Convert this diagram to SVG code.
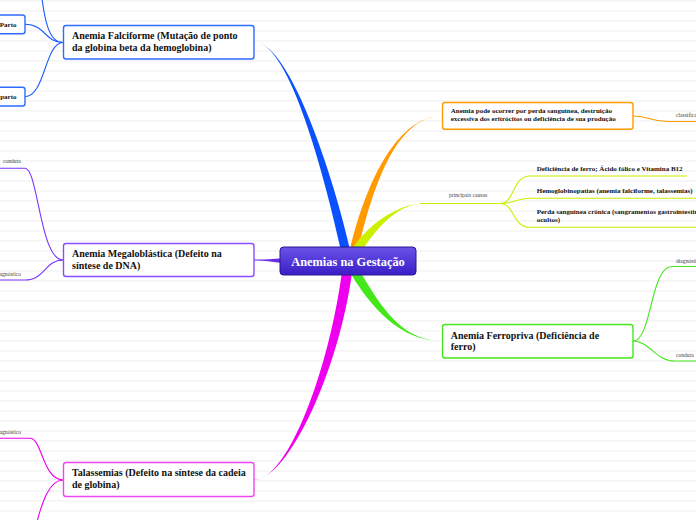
<svg xmlns="http://www.w3.org/2000/svg" width="696" height="520" viewBox="0 0 696 520">
<defs>
<pattern id="ruled" x="0" y="0" width="696" height="10" patternUnits="userSpaceOnUse">
<rect x="0" y="0" width="696" height="10" fill="#ffffff"/>
<rect x="0" y="0.2" width="696" height="1.4" fill="#f4f4f4"/>
</pattern>
<linearGradient id="rootGrad" x1="0" y1="0" x2="0" y2="1">
<stop offset="0" stop-color="#6b52e8"/>
<stop offset="1" stop-color="#3a1ec6"/>
</linearGradient>
<style>
.node{fill:#ffffff;stroke-width:1.4}
.t{font-family:"Liberation Serif","Times New Roman",serif;font-weight:bold;fill:#111111}
.big{font-size:10px}
.small{font-size:7px}
.lbl{font-family:"Liberation Serif","Times New Roman",serif;font-size:5.6px;fill:#444444}
.ln{fill:none;stroke-width:1.1}
.blue{stroke:#1a5cff}
.violet{stroke:#7a35ff}
.mag{stroke:#ee00ee}
.orange{stroke:#ff9a00}
.yel{stroke:#ccee00}
.green{stroke:#44e81a}
</style>
</defs>
<rect x="0" y="0" width="696" height="520" fill="url(#ruled)"/>

<g id="connectors">
<!-- main branches -->
<path d="M255,42.5 C290,42.5 334.4,179 350.4,251 L341.6,253 C325.6,181 290,42.5 255,42.5 Z" fill="#0a50ff"/>
<path d="M254,480 C288,480 339,370.6 352,272.6 L342,271.4 C329,369.4 288,480 254,480 Z" fill="#ee00ee"/>
<path d="M442,116 C395,116 371.9,190.9 357.9,250.9 L350.1,249.1 C364.1,189.1 395,116 442,116 Z" fill="#ff9a00"/>
<path d="M425,203.5 C395,203.5 373.8,232.5 360.8,252.5 L353.2,247.5 C366.2,227.5 395,203.5 425,203.5 Z" fill="#ccf000"/>
<path d="M442,341 C400,341 378.9,302.7 358.9,269.7 L351.1,274.3 C371.1,307.3 400,341 442,341 Z" fill="#44e81a"/>
<path d="M254,259.6 C265,259.6 272,259 284,258.2 L284,263.2 C272,262 265,260.6 254,260.6 Z" fill="#6a2ae8"/>

<!-- Falciforme children -->
<path class="ln blue" d="M63,42.5 C50,42.5 44,25 40,-20"/>
<path class="ln blue" d="M25,24.3 C45,24.3 45,42.5 63,42.5"/>
<path class="ln blue" d="M25,96.7 C45,96.7 45,42.5 63,42.5"/>

<!-- Megaloblastica children -->
<path class="ln violet" d="M0,168.3 L25,168.3 C38,168.3 40,260 63,260"/>
<path class="ln violet" d="M0,280 L25,280 C45,280 45,260 63,260"/>

<!-- Talassemias children -->
<path class="ln mag" d="M0,438.3 L30,438.3 C42,438.3 43,480 63,480"/>
<path class="ln mag" d="M63,480 C50,480 42,500 35,530"/>

<!-- Orange child -->
<path class="ln orange" d="M633,116 C650,116 650,121.5 668,121.5 L696,121.5"/>

<!-- Yellow causes -->
<path class="ln yel" d="M420,203.5 L500,203.5"/>
<path class="ln yel" d="M500,203.5 C515,203.5 512,176 530,176 L687,176"/>
<path class="ln yel" d="M500,203.5 C515,203.5 515,198.3 530,198.3 L696,198.3"/>
<path class="ln yel" d="M500,203.5 C515,203.5 512,227.3 530,227.3 L696,227.3"/>

<!-- Ferropriva children -->
<path class="ln green" d="M633,341 C652,341 650,266.5 672,266.5 L696,266.5"/>
<path class="ln green" d="M633,341 C650,341 655,361 675,361 L696,361"/>
</g>

<g id="root">
<rect x="280" y="247" width="136" height="28" rx="3.5" fill="url(#rootGrad)" stroke="#2a168f" stroke-width="1"/>
<text x="348" y="265.5" text-anchor="middle" font-family="Liberation Serif, Times New Roman, serif" font-weight="bold" font-size="12.4" fill="#ffffff">Anemias na Gestação</text>
</g>

<g id="falciforme">
<rect class="node" x="63.5" y="25.5" width="190.5" height="33.5" rx="2.5" stroke="#2e6bff"/>
<text class="t big" x="72" y="38.8">Anemia Falciforme (Mutação de ponto</text>
<text class="t big" x="72" y="50.5">da globina beta da hemoglobina)</text>
</g>

<g id="parto1">
<rect class="node" x="-10" y="15" width="35" height="18.7" rx="2.5" stroke="#2e6bff"/>
<text class="t small" x="16.5" y="26.5" text-anchor="end">Parto</text>
</g>

<g id="parto2">
<rect class="node" x="-10" y="87.3" width="35" height="18.7" rx="2.5" stroke="#2e6bff"/>
<text class="t small" x="16.5" y="99" text-anchor="end">parto</text>
</g>

<g id="megaloblastica">
<rect class="node" x="63.5" y="243.5" width="190.5" height="33" rx="2.5" stroke="#8a4dff"/>
<text class="t big" x="72" y="257.3">Anemia Megaloblástica (Defeito na</text>
<text class="t big" x="72" y="268.5">síntese de DNA)</text>
</g>
<g id="mega-conduta"><text class="lbl" x="3" y="162.5">conduta</text></g>
<g id="mega-diagnostico"><text class="lbl" x="21" y="276" text-anchor="end">diagnóstico</text></g>

<g id="talassemias">
<rect class="node" x="63.5" y="462.5" width="190.5" height="34" rx="2.5" stroke="#f046f0"/>
<text class="t big" x="72" y="476">Talassemias (Defeito na síntese da cadeia</text>
<text class="t big" x="72" y="487.5">de globina)</text>
</g>
<g id="tal-diagnostico"><text class="lbl" x="21" y="434" text-anchor="end">diagnóstico</text></g>

<g id="definicao">
<rect class="node" x="442.5" y="102.5" width="190.5" height="26.8" rx="2.5" stroke="#ff9a00"/>
<text class="t small" x="450.7" y="113.3">Anemia pode ocorrer por perda sanguínea, destruição</text>
<text class="t small" x="450.7" y="121.3">excessiva dos eritrócitos ou deficiência de sua produção</text>
</g>
<g id="classificacao"><text class="lbl" x="676" y="117">classificação</text></g>

<g id="causas"><text class="lbl" x="449" y="196.5">principais causas</text></g>
<g id="causa1"><text class="t small" x="536.7" y="170.5">Deficiência de ferro; Ácido fólico e Vitamina B12</text></g>
<g id="causa2"><text class="t small" x="536.7" y="192.5">Hemoglobinopatias (anemia falciforme, talassemias)</text></g>
<g id="causa3">
<text class="t small" x="536.7" y="213.5">Perda sanguínea crônica (sangramentos gastrointestinais</text>
<text class="t small" x="536.7" y="222">ocultos)</text>
</g>

<g id="ferropriva">
<rect class="node" x="442.5" y="324.5" width="190.5" height="33.5" rx="2.5" stroke="#44e81a"/>
<text class="t big" x="450.7" y="338.5">Anemia Ferropriva (Deficiência de</text>
<text class="t big" x="450.7" y="349.7">ferro)</text>
</g>
<g id="ferro-diagnostico"><text class="lbl" x="676" y="262.5">diagnóstico</text></g>
<g id="ferro-conduta"><text class="lbl" x="676" y="356.5">conduta</text></g>
</svg>
